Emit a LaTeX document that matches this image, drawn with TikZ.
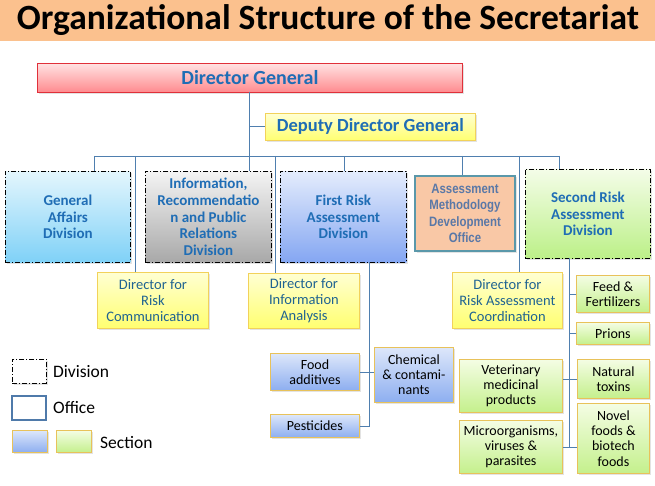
\documentclass[tikz,border=0pt]{standalone}
\usepackage{fontspec}
\setmainfont{Carlito}
\newfontfamily\narrowfont[FakeStretch=0.84]{Liberation Sans}
\usetikzlibrary{shadows}
\definecolor{titlebg}{HTML}{FBC18E}
\definecolor{linec}{HTML}{4F7FAF}
\definecolor{divtext}{HTML}{1F6DB5}
\definecolor{dirtext}{HTML}{1F6391}
\definecolor{dgtop}{HTML}{FFE2E2}
\definecolor{dgbot}{HTML}{FF8A8E}
\definecolor{dgbord}{HTML}{E0303A}
\definecolor{ytop}{HTML}{FFFFD2}
\definecolor{ybot}{HTML}{FFFF70}
\definecolor{ybord}{HTML}{F2D25A}
\definecolor{gatop}{HTML}{E4F6FD}
\definecolor{gabot}{HTML}{7FD1F7}
\definecolor{gytop}{HTML}{F4F4F4}
\definecolor{gybot}{HTML}{A8A8A8}
\definecolor{frtop}{HTML}{E4ECFC}
\definecolor{frbot}{HTML}{84A6F2}
\definecolor{srtop}{HTML}{F4FDE8}
\definecolor{srbot}{HTML}{BCF088}
\definecolor{btop}{HTML}{DDE7FA}
\definecolor{bbot}{HTML}{8DAEF0}
\definecolor{gtop}{HTML}{F4FDE4}
\definecolor{gbot}{HTML}{C4F08C}
\definecolor{sbord}{HTML}{E8C25A}
\definecolor{offfill}{HTML}{F9C8A6}
\definecolor{offbord}{HTML}{5A98AA}
\definecolor{offtext}{HTML}{5A78A6}
\definecolor{legoff}{HTML}{4F7AAA}
\begin{document}
\begin{tikzpicture}[x=1pt,y=-1pt,
  base/.style={rectangle, inner sep=1pt, align=center, anchor=north west,
    drop shadow={opacity=0.22, shadow xshift=1.5pt, shadow yshift=-1.5pt}},
  division/.style={base, draw=black, line width=0.8pt,
    dash pattern=on 5pt off 2pt on 1pt off 2pt,
    font=\bfseries\fontsize{15}{16.7}\selectfont, text=divtext},
  yellowbox/.style={base, draw=ybord, line width=0.9pt, top color=ytop, bottom color=ybot,
    text=dirtext, font=\fontsize{14.5}{16}\selectfont},
  bsec/.style={base, draw=sbord, line width=0.9pt, top color=btop, bottom color=bbot,
    text=black, font=\fontsize{14}{15.2}\selectfont},
  gsec/.style={base, draw=sbord, line width=0.9pt, top color=gtop, bottom color=gbot,
    text=black, font=\fontsize{14}{15.2}\selectfont},
  conn/.style={draw=linec, line width=0.9pt},
  legtext/.style={anchor=west, inner sep=0pt, font=\fontsize{17.5}{20}\selectfont, text=black}]
\useasboundingbox (0,0) rectangle (655,486);
\fill[white] (0,0) rectangle (655,486);
% title
\fill[titlebg] (0,0) rectangle (655,41);
\node[inner sep=0pt, font=\bfseries\fontsize{35.5}{38}\selectfont] (title) at (328,20) {Organizational Structure of the Secretariat};
% top boxes
\node[base, draw=dgbord, line width=0.9pt, top color=dgtop, bottom color=dgbot,
  minimum width=425pt, minimum height=29pt, text=divtext,
  font=\bfseries\fontsize{20}{22}\selectfont] (dg) at (37,63) {Director General};
\node[yellowbox, minimum width=210pt, minimum height=27pt, text=divtext,
  font=\bfseries\fontsize{18.5}{21}\selectfont] (ddg) at (265,113) {Deputy Director General};
% divisions and office
\node[division, minimum width=125pt, minimum height=91pt, top color=gatop, bottom color=gabot] (ga) at (5,171) {General\\Affairs\\Division};
\node[division, minimum width=126pt, minimum height=91pt, top color=gytop, bottom color=gybot] (info) at (145,171) {Information,\\Recommendatio\\n and Public\\Relations\\Division};
\node[division, minimum width=126pt, minimum height=91pt, top color=frtop, bottom color=frbot] (fr) at (280,171) {First Risk\\Assessment\\Division};
\node[base, draw=offbord, line width=2pt, fill=offfill, minimum width=100pt, minimum height=75pt,
  text=offtext, font=\narrowfont\bfseries\fontsize{13.6}{16.3}\selectfont] (amd) at (414,175) {Assessment\\Methodology\\Development\\Office};
\node[division, minimum width=125pt, minimum height=89pt, top color=srtop, bottom color=srbot] (sr) at (525,169) {Second Risk\\Assessment\\Division};
% directors
\node[yellowbox, minimum width=111pt, minimum height=56pt] (drc) at (97,272) {Director for\\Risk\\Communication};
\node[yellowbox, minimum width=111pt, minimum height=55pt] (dia) at (248,273) {Director for\\Information\\Analysis};
\node[yellowbox, minimum width=110pt, minimum height=56pt] (drac) at (452,272) {Director for\\Risk Assessment\\Coordination};
% first risk sections
\node[bsec, minimum width=89pt, minimum height=37pt] (fa) at (270,353) {Food\\additives};
\node[bsec, minimum width=89pt, minimum height=23pt] (pest) at (270,414) {Pesticides};
\node[bsec, minimum width=79pt, minimum height=55pt] (chem) at (374,347) {Chemical\\\&{} contami-\\nants};
% second risk sections
\node[gsec, minimum width=73pt, minimum height=37pt] (ff) at (576,275) {Feed \&\\Fertilizers};
\node[gsec, minimum width=73pt, minimum height=22pt] (pr) at (576,322) {Prions};
\node[gsec, minimum width=72pt, minimum height=39pt] (nt) at (577,359) {Natural\\toxins};
\node[gsec, minimum width=72pt, minimum height=70pt] (nf) at (577,403) {Novel\\foods \&\\biotech\\foods};
\node[gsec, minimum width=103pt, minimum height=53pt] (vet) at (459,359) {Veterinary\\medicinal\\products};
\node[gsec, minimum width=103pt, minimum height=53pt] (mic) at (459,420) {Microorganisms,\\viruses \&\\parasites};
% connectors
\coordinate (b1) at (94,156);
\coordinate (b2) at (135,156);
\coordinate (b4) at (275,156);
\coordinate (b5) at (344,156);
\coordinate (b6) at (462,156);
\coordinate (b7) at (519,156);
\coordinate (b8) at (559,156);
\coordinate (t1) at (249,92);
\coordinate (v1) at (369,262);
\coordinate (v2) at (569,258);
\draw[conn] (b1) -- (b8);
\draw[conn] (t1) -- (t1 |- info.north);
\draw[conn] (t1 |- ddg.west) -- (ddg.west);
\draw[conn] (b1) -- (b1 |- ga.north);
\draw[conn] (b2) -- (b2 |- drc.north);
\draw[conn] (b4) -- (b4 |- dia.north);
\draw[conn] (b5) -- (b5 |- fr.north);
\draw[conn] (b6) -- (b6 |- amd.north);
\draw[conn] (b7) -- (b7 |- drac.north);
\draw[conn] (b8) -- (b8 |- sr.north);
\draw[conn] (v1) -- (v1 |- pest.east) -- (pest.east);
\draw[conn] (fa.east) -- (fa.east -| chem.west);
\draw[conn] (v2) -- (v2 |- mic.east);
\draw[conn] (v2 |- ff.west) -- (ff.west);
\draw[conn] (v2 |- pr.west) -- (pr.west);
\draw[conn] (nt.west) -- (nt.west -| vet.east);
\draw[conn] (mic.east) -- (mic.east -| nf.west);
% legend
\node[base, draw=black, line width=0.8pt, dash pattern=on 5pt off 2pt on 1pt off 2pt,
  fill=white, minimum width=34pt, minimum height=24pt] (lgdiv) at (12,359) {};
\node[legtext] (lgdivt) at (53,372) {Division};
\node[base, draw=legoff, line width=1.5pt, fill=white, minimum width=34pt, minimum height=24pt] (lgoff) at (11,395) {};
\node[legtext] (lgofft) at (53,408) {Office};
\node[bsec, minimum width=35pt, minimum height=22pt] (lgb) at (12,430) {};
\node[gsec, minimum width=35pt, minimum height=22pt] (lgg) at (56,430) {};
\node[legtext] (lgsect) at (100,443) {Section};
\end{tikzpicture}
\end{document}
